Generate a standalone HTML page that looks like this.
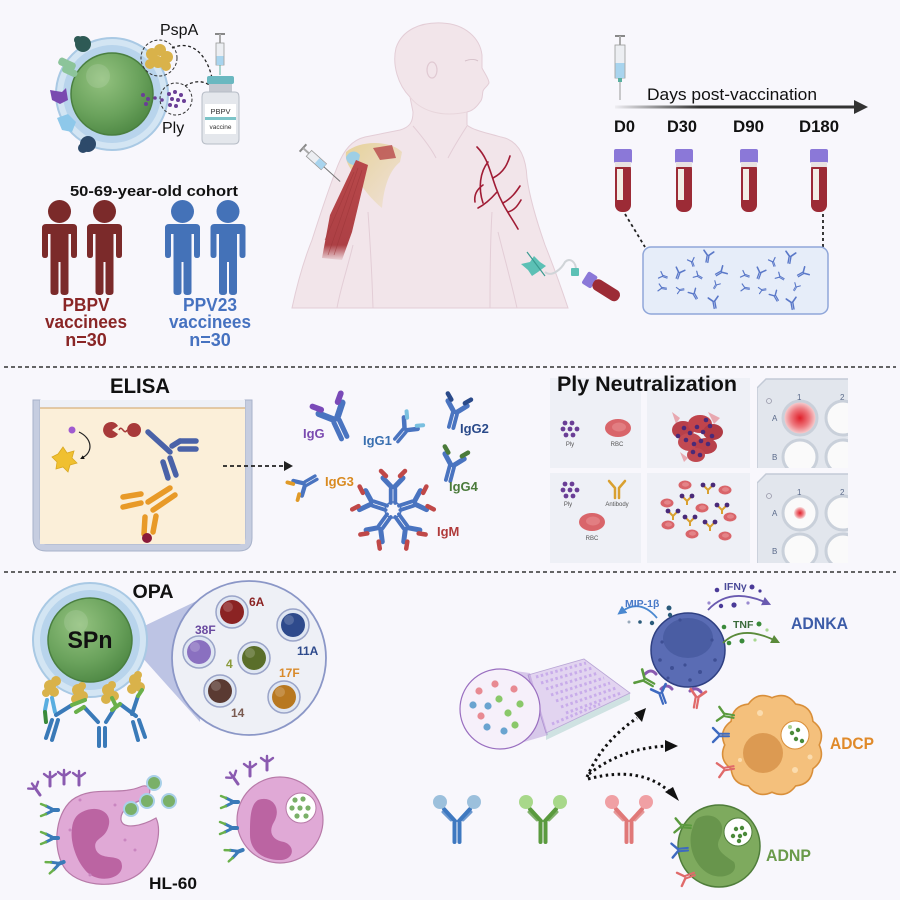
<!DOCTYPE html>
<html><head><meta charset="utf-8"><style>
html,body{margin:0;padding:0;background:#f8f7fc;width:900px;height:900px;overflow:hidden}
svg{display:block}
text{font-family:"Liberation Sans",Arial,sans-serif}
.b{font-weight:bold}
</style></head><body>
<svg width="900" height="900" viewBox="0 0 900 900" xmlns="http://www.w3.org/2000/svg">
<defs>
<radialGradient id="gg" cx="0.38" cy="0.32" r="0.75"><stop offset="0" stop-color="#93c27f"/><stop offset="0.6" stop-color="#6aa25c"/><stop offset="1" stop-color="#4c8642"/></radialGradient>
<radialGradient id="redw" cx="0.5" cy="0.5" r="0.5"><stop offset="0" stop-color="#e0202a"/><stop offset="0.55" stop-color="#ee7a80"/><stop offset="1" stop-color="#f7dcdd"/></radialGradient>
<linearGradient id="arr" gradientUnits="userSpaceOnUse" x1="615" y1="0" x2="700" y2="0"><stop offset="0" stop-color="#333" stop-opacity="0.05"/><stop offset="1" stop-color="#333"/></linearGradient>
<linearGradient id="mus" x1="0" y1="0" x2="0" y2="1"><stop offset="0" stop-color="#b8484a"/><stop offset="0.85" stop-color="#ad4045"/><stop offset="1" stop-color="#ad4045" stop-opacity="0.1"/></linearGradient>
<linearGradient id="bone" x1="0" y1="0" x2="1" y2="1"><stop offset="0" stop-color="#e6d29a"/><stop offset="1" stop-color="#e6d29a" stop-opacity="0.2"/></linearGradient>
<marker id="mk" viewBox="0 0 10 10" refX="5" refY="5" markerWidth="3.5" markerHeight="3.5" orient="auto"><path d="M0,0 L10,5 L0,10 Z" fill="#111"/></marker>
<marker id="mk2" viewBox="0 0 10 10" refX="5" refY="5" markerWidth="5" markerHeight="5" orient="auto"><path d="M0,0 L10,5 L0,10 Z" fill="context-stroke"/></marker>
<g id="abc" fill="none" stroke-linecap="round">
  <path d="M-2.3,1 V15 M2.3,1 V15" stroke="#4a74c0" stroke-width="3.8"/>
  <path d="M-1.5,-1 L-10,-10 M1.5,-1 L10,-10" stroke="#4a74c0" stroke-width="5"/>
  <path d="M-7,-12 L-12,-17 M7,-12 L12,-17" stroke="currentColor" stroke-width="4.5"/>
</g>
<g id="abs" fill="none" stroke-linecap="round" stroke="currentColor">
  <path d="M-1.3,0 V9 M1.3,0 V9" stroke-width="2"/>
  <path d="M-1,-1 L-7,-7 M1,-1 L7,-7" stroke-width="2.4"/>
</g>
<g id="tube"><rect x="-9" y="0" width="18" height="14" rx="2" fill="#8b78d8"/><rect x="-8" y="13" width="16" height="50" rx="7" fill="#9c2b36"/><rect x="-8" y="13" width="16" height="5" fill="#e8e2e2"/><rect x="-6" y="20" width="6" height="31" fill="#f2efe6"/></g>
<g id="person"><circle cx="0" cy="-12.5" r="11.5"/><path d="M-17.5,4 Q-17.5,0 -13.5,0 H13.5 Q17.5,0 17.5,4 V31 Q17.5,34 14.5,34 Q11.5,34 11.5,31 V10 H9 V68 Q9,71 5,71 Q1,71 1,68 V38 H-1 V68 Q-1,71 -5,71 Q-9,71 -9,68 V10 H-11.5 V31 Q-11.5,34 -14.5,34 Q-17.5,34 -17.5,31 Z"/></g>
<g id="plydots" fill="#6a3e96"><circle cx="-4" cy="-6" r="2.4"/><circle cx="3" cy="-6" r="2.4"/><circle cx="-6" cy="0" r="2.4"/><circle cx="1" cy="0" r="2.4"/><circle cx="8" cy="0" r="2.4"/><circle cx="-3" cy="6" r="2.4"/><circle cx="4" cy="6" r="2.4"/></g>
<g id="rbc"><ellipse rx="13" ry="9" fill="#d9656a"/><ellipse cx="1" cy="-1" rx="7" ry="4.5" fill="#e27e82"/></g>
<g id="srbc"><ellipse rx="6.5" ry="4.5" fill="#d9656a"/><ellipse cx="0.5" cy="-0.5" rx="3.5" ry="2.2" fill="#e48488"/></g>
<g id="cplx"><path d="M0,4 V0 M0,0 L-4,-4 M0,0 L4,-4" stroke="#d9a030" stroke-width="2" fill="none"/><circle cx="-5" cy="-5" r="2.4" fill="#4a2a78"/><circle cx="5" cy="-5" r="2.4" fill="#4a2a78"/></g>
<g id="yb" fill="none" stroke-linecap="round" stroke="currentColor">
  <path d="M-2.5,0 V20 M2.5,0 V20" stroke-width="4"/>
  <path d="M-2,-1 L-13,-13 M2,-1 L13,-13" stroke-width="4"/>
  <path d="M-6,-2 L-14,-10 M6,-2 L14,-10" stroke-width="3" stroke-opacity="0.75"/>
</g>
<g id="prec" fill="none" stroke="#8a5ab0" stroke-linecap="round"><path d="M0,0 V-10" stroke-width="3"/><path d="M-6,-12 L-2,-9 M6,-12 L2,-9 M0,-14 V-10" stroke-width="2.4"/></g>
<g id="brec" fill="none" stroke-linecap="round"><path d="M0,0 H6" stroke="#3a7ab8" stroke-width="4"/><path d="M-6,-4 L0,-1 M-6,4 L0,1" stroke="#3a7ab8" stroke-width="3"/><path d="M-11,-6 L-6,-4 M-11,6 L-6,4" stroke="#6ab04a" stroke-width="2.4"/></g>
</defs>

<rect width="900" height="900" fill="#f8f7fc"/>

<!-- ===== TOP LEFT: bacterium + vaccine ===== -->
<circle cx="112" cy="94" r="56" fill="#d3e5f3" stroke="#a9c9e4" stroke-width="2"/>
<circle cx="112" cy="94" r="49" fill="#b8d4ec"/>
<circle cx="112" cy="94" r="41" fill="url(#gg)" stroke="#4a7f40" stroke-width="1.5"/>
<circle cx="98" cy="76" r="12" fill="#fff" opacity="0.12"/>
<circle cx="83" cy="44" r="8" fill="#2e5a55"/><circle cx="78" cy="40" r="4" fill="#2e5a55"/>
<rect x="58" y="60" width="18" height="8" rx="3" fill="#8cc49a" transform="rotate(25 67 64)"/><rect x="62" y="68" width="16" height="7" rx="3" fill="#8cc49a" transform="rotate(25 70 71)"/>
<path d="M50,90 L62,92 L66,88 L68,100 L60,104 L52,100 Z" fill="#7a4ab0"/>
<path d="M57,118 L68,114 L76,122 L72,132 L62,130 Z" fill="#8ec8ea"/>
<circle cx="88" cy="144" r="8" fill="#2d4a6a"/><circle cx="83" cy="148" r="5" fill="#2d4a6a"/>
<g fill="#d9b24a"><circle cx="152" cy="54" r="6"/><circle cx="160" cy="50" r="6"/><circle cx="167" cy="57" r="6"/><circle cx="158" cy="62" r="6"/><circle cx="150" cy="64" r="5"/><circle cx="166" cy="66" r="5"/></g>
<circle cx="159" cy="58" r="18" fill="none" stroke="#333" stroke-width="1" stroke-dasharray="3,2"/>
<g fill="#6a3e96"><circle cx="169" cy="94" r="2"/><circle cx="175" cy="92" r="2"/><circle cx="181" cy="95" r="2"/><circle cx="172" cy="99" r="2"/><circle cx="178" cy="100" r="2"/><circle cx="184" cy="101" r="2"/><circle cx="170" cy="105" r="2"/><circle cx="176" cy="106" r="2"/><circle cx="143" cy="95" r="2"/><circle cx="148" cy="99" r="2"/><circle cx="146" cy="104" r="2"/><circle cx="155" cy="98" r="1.8"/><circle cx="162" cy="100" r="1.8"/></g>
<circle cx="176" cy="99" r="16" fill="none" stroke="#333" stroke-width="1" stroke-dasharray="3,2"/>
<path d="M172,48 C195,38 210,60 213,84" fill="none" stroke="#222" stroke-width="1.3" stroke-dasharray="3,2.5" marker-end="url(#mk)"/>
<path d="M185,86 C195,80 205,80 213,88" fill="none" stroke="#222" stroke-width="1.3" stroke-dasharray="3,2.5" marker-end="url(#mk)"/>
<!-- vial -->
<rect x="207" y="76" width="27" height="8" rx="2" fill="#6ab8c0"/>
<rect x="209" y="84" width="23" height="8" fill="#c4c8d0"/>
<path d="M206,92 H235 Q239,92 239,97 V139 Q239,144 234,144 H207 Q202,144 202,139 V97 Q202,92 206,92 Z" fill="#e4e7ec" stroke="#b6bcc6"/>
<rect x="205" y="104" width="31" height="30" fill="#fff"/>
<rect x="205" y="117" width="31" height="3" fill="#7cc4c8"/>
<text x="220.5" y="114" font-size="7.5" text-anchor="middle" fill="#333">PBPV</text>
<text x="220.5" y="129" font-size="6.5" text-anchor="middle" fill="#333">vaccine</text>
<!-- vial syringe -->
<line x1="215" y1="34" x2="225" y2="34" stroke="#888" stroke-width="2"/>
<rect x="219" y="34" width="2" height="9" fill="#aaa"/>
<rect x="216" y="43" width="8" height="22" fill="#eceef2" stroke="#999" stroke-width="0.8"/>
<rect x="216.5" y="56" width="7" height="9" fill="#a8d4ee"/>
<line x1="220" y1="65" x2="220" y2="75" stroke="#5ab0a0" stroke-width="1"/>
<text x="160" y="35" font-size="16" fill="#111">PspA</text>
<text x="162" y="133" font-size="16" fill="#111">Ply</text>

<!-- cohort -->
<text x="154" y="196" font-size="15" class="b" text-anchor="middle" fill="#111" textLength="168" lengthAdjust="spacingAndGlyphs">50-69-year-old cohort</text>
<g fill="#7b2a2a"><use href="#person" x="59.5" y="224"/><use href="#person" x="104.5" y="224"/></g>
<g fill="#4472b8"><use href="#person" x="182.5" y="224"/><use href="#person" x="228" y="224"/></g>
<g class="b" font-size="18" text-anchor="middle">
<text x="86" y="311" fill="#8a2626" textLength="47" lengthAdjust="spacingAndGlyphs">PBPV</text>
<text x="86" y="328" fill="#8a2626" textLength="82" lengthAdjust="spacingAndGlyphs">vaccinees</text>
<text x="86" y="346" fill="#8a2626">n=30</text>
<text x="210" y="311" fill="#4672c0" textLength="54" lengthAdjust="spacingAndGlyphs">PPV23</text>
<text x="210" y="328" fill="#4672c0" textLength="82" lengthAdjust="spacingAndGlyphs">vaccinees</text>
<text x="210" y="346" fill="#4672c0">n=30</text>
</g>

<!-- ===== HUMAN BODY ===== -->
<path d="M292,308 C298,280 306,255 312,240 C320,215 330,185 338,165 C344,150 352,140 365,137 L400,130 C410,127 413,122 413,112 L410,97 C398,85 392,65 396,48 C402,30 420,22 442,23 C465,24 480,38 482,55 L482,68 C485,74 489,79 489,83 C487,87 484,88 483,91 C482,95 483,99 480,102 C476,108 472,111 467,112 L467,125 C472,130 490,134 505,138 C520,143 526,158 527,178 C530,200 538,225 545,245 C553,265 562,290 568,308 Z" fill="#f2e5ea" stroke="#e3cdd6" stroke-width="1"/>
<path d="M368,212 C370,240 372,275 373,308 M492,212 C490,245 490,280 490,308 M353,245 C347,270 340,290 337,308 M498,232 C505,260 512,285 517,308 M413,126 C425,140 432,150 436,158 M467,126 C458,140 452,150 448,158" fill="none" stroke="#e3cdd6" stroke-width="1"/>
<path d="M410,97 C420,110 440,118 467,112" fill="none" stroke="#e8d6dc" stroke-width="1"/>
<ellipse cx="432" cy="70" rx="5" ry="8" fill="none" stroke="#e0c9d2" stroke-width="1.2"/>
<path d="M465,61 C470,59 475,59 478,61" stroke="#d5bfc8" stroke-width="1" fill="none"/>
<!-- shoulder bones and muscle -->
<path d="M346,152 C360,140 390,140 402,152 L400,162 C390,170 384,185 382,208 C372,200 362,188 355,175 C348,166 345,160 346,152 Z" fill="url(#bone)"/>
<path d="M373,148 L392,145 L396,158 L380,160 Z" fill="#b8484a" opacity="0.8"/>
<path d="M346,157 C350,150 356,150 360,155 L358,165 C352,166 346,163 346,157 Z" fill="#9ecfe6"/>
<path d="M356,160 L368,165 L352,232 L342,260 L322,258 L330,215 Z" fill="url(#mus)"/>
<g stroke="#9a3538" stroke-width="0.7" opacity="0.6"><line x1="358" y1="168" x2="328" y2="255"/><line x1="362" y1="170" x2="334" y2="255"/><line x1="354" y1="172" x2="325" y2="240"/></g>
<g transform="translate(303,148) rotate(-48)"><line x1="-5" y1="0" x2="5" y2="0" stroke="#888" stroke-width="2"/><rect x="-1" y="0" width="2" height="8" fill="#aaa"/><rect x="-4" y="8" width="8" height="20" fill="#eceef2" stroke="#999" stroke-width="0.8"/><rect x="-3.5" y="19" width="7" height="9" fill="#a8d4ee"/><line x1="0" y1="28" x2="0" y2="50" stroke="#777" stroke-width="1"/></g>
<!-- veins -->
<g fill="none" stroke="#a01c35" stroke-width="1.6" stroke-linecap="round">
<path d="M477,147 C488,158 490,172 496,188 C502,205 510,215 518,229"/>
<path d="M488,162 C480,172 478,188 483,203"/>
<path d="M493,178 C505,172 508,162 510,156"/>
<path d="M497,192 C490,200 484,205 478,208"/>
<path d="M503,203 C512,198 516,192 520,186"/>
<path d="M508,212 C515,210 518,205 521,200"/>
<path d="M483,185 C476,190 474,196 475,202"/>
</g>
<!-- butterfly + tube -->
<path d="M545,272 C552,278 562,268 565,262 C570,257 576,262 576,270" fill="none" stroke="#d0d4d8" stroke-width="2"/>
<path d="M521,264 L530,262 L534,256 L540,262 L546,266 L538,272 L532,276 L528,270 Z" fill="#5cc0b5"/>
<line x1="527" y1="252" x2="545" y2="276" stroke="#3a9a90" stroke-width="1.2"/>
<rect x="571" y="268" width="8" height="8" rx="1" fill="#5cc0b5"/>
<g transform="translate(585,277) rotate(-58)"><rect x="-7" y="0" width="14" height="11" rx="2" fill="#8b78d8"/><rect x="-6" y="10" width="12" height="30" rx="5.5" fill="#9c2b36"/></g>

<!-- ===== TOP RIGHT: timeline ===== -->
<line x1="615" y1="36" x2="625" y2="36" stroke="#888" stroke-width="2"/>
<rect x="619" y="36" width="2" height="9" fill="#aaa"/>
<rect x="615" y="45" width="10" height="33" fill="#eceef2" stroke="#999" stroke-width="0.8"/>
<rect x="615.5" y="63" width="9" height="15" fill="#a8d4ee"/>
<rect x="618" y="78" width="4" height="4" fill="#5ab0a0"/>
<line x1="620" y1="82" x2="620" y2="100" stroke="#999" stroke-width="1"/>
<rect x="615" y="105.5" width="241" height="3" fill="url(#arr)"/>
<path d="M854,100 L868,107 L854,114 Z" fill="#333"/>
<text x="647" y="100" font-size="17" fill="#111" textLength="170" lengthAdjust="spacingAndGlyphs">Days post-vaccination</text>
<g class="b" font-size="17" fill="#111">
<text x="614" y="132" textLength="21" lengthAdjust="spacingAndGlyphs">D0</text>
<text x="667" y="132" textLength="30" lengthAdjust="spacingAndGlyphs">D30</text>
<text x="733" y="132" textLength="31" lengthAdjust="spacingAndGlyphs">D90</text>
<text x="799" y="132" textLength="40" lengthAdjust="spacingAndGlyphs">D180</text>
</g>
<use href="#tube" x="623" y="149"/><use href="#tube" x="684" y="149"/><use href="#tube" x="749" y="149"/><use href="#tube" x="819" y="149"/>
<line x1="625" y1="214" x2="645" y2="247" stroke="#222" stroke-width="1.8" stroke-dasharray="3,3"/>
<line x1="823" y1="214" x2="823" y2="247" stroke="#222" stroke-width="1.8" stroke-dasharray="3,3"/>
<rect x="643" y="247" width="185" height="67" rx="8" fill="#e6edf9" stroke="#8fa6d9" stroke-width="1.5"/>
<g color="#5a78c8">
<use href="#abs" transform="translate(663,276) rotate(-70) scale(0.5)"/><use href="#abs" transform="translate(679,273) rotate(20) scale(0.65)"/><use href="#abs" transform="translate(692,262) rotate(-20) scale(0.5)"/><use href="#abs" transform="translate(708,256) rotate(10) scale(0.7)"/><use href="#abs" transform="translate(698,276) rotate(-60) scale(0.5)"/><use href="#abs" transform="translate(721,272) rotate(60) scale(0.65)"/>
<use href="#abs" transform="translate(662,288) rotate(-80) scale(0.5)"/><use href="#abs" transform="translate(680,290) rotate(-100) scale(0.45)"/><use href="#abs" transform="translate(694,294) rotate(-30) scale(0.6)"/><use href="#abs" transform="translate(714,302) rotate(-10) scale(0.7)"/><use href="#abs" transform="translate(716,285) rotate(30) scale(0.45)"/>
<use href="#abs" transform="translate(745,275) rotate(-70) scale(0.5)"/><use href="#abs" transform="translate(760,273) rotate(20) scale(0.65)"/><use href="#abs" transform="translate(773,262) rotate(-20) scale(0.5)"/><use href="#abs" transform="translate(790,257) rotate(10) scale(0.7)"/><use href="#abs" transform="translate(780,277) rotate(-60) scale(0.5)"/><use href="#abs" transform="translate(803,273) rotate(60) scale(0.65)"/>
<use href="#abs" transform="translate(745,288) rotate(-80) scale(0.5)"/><use href="#abs" transform="translate(762,290) rotate(-100) scale(0.45)"/><use href="#abs" transform="translate(775,296) rotate(-30) scale(0.6)"/><use href="#abs" transform="translate(792,303) rotate(-10) scale(0.7)"/><use href="#abs" transform="translate(796,287) rotate(30) scale(0.45)"/>
</g>

<!-- separators -->
<line x1="4" y1="367" x2="896" y2="367" stroke="#333" stroke-width="1.5" stroke-dasharray="4,3"/>
<line x1="4" y1="572" x2="896" y2="572" stroke="#333" stroke-width="1.5" stroke-dasharray="4,3"/>

<!-- ===== ELISA ===== -->
<text x="140" y="393" font-size="21" class="b" text-anchor="middle" fill="#111" textLength="60" lengthAdjust="spacingAndGlyphs">ELISA</text>
<path d="M33,400 V538 Q33,551 46,551 H239 Q252,551 252,538 V400 H245 V537 Q245,544 238,544 H47 Q40,544 40,537 V400 Z" fill="#c6cde0" stroke="#a8b2ca"/>
<rect x="40" y="408" width="205" height="136" fill="#fbefd9"/>
<rect x="40" y="400" width="205" height="8" fill="#eef0f6"/>
<line x1="40" y1="408" x2="245" y2="408" stroke="#d0a060" stroke-width="1"/>
<circle cx="72" cy="430" r="3.5" fill="#a05ad0"/>
<path d="M79,432 C92,438 94,452 82,458" fill="none" stroke="#222" stroke-width="1.2" marker-end="url(#mk)"/>
<path d="M63,447 L67,453 L74,451 L72,458 L77,463 L70,465 L68,472 L63,467 L56,469 L57,462 L52,457 L58,454 Z" fill="#f0c030" stroke="#d9a820" stroke-width="0.8"/>
<path d="M112,422 A8,8 0 1 0 118,434 L112,430 L118,426 A8,8 0 0 0 112,422 Z" fill="#a83a3a"/>
<path d="M119,430 C122,424 124,436 127,430" fill="none" stroke="#a83a3a" stroke-width="1.5"/>
<circle cx="134" cy="430" r="7" fill="#a83a3a"/>
<g stroke="#4a62a8" stroke-width="5.5" stroke-linecap="round" fill="none">
<line x1="148" y1="432" x2="170" y2="452"/>
<line x1="172" y1="446" x2="180" y2="441"/>
<line x1="180" y1="441" x2="196" y2="441"/>
<line x1="180" y1="449" x2="196" y2="449"/>
<line x1="163" y1="462" x2="168" y2="478"/>
<line x1="170" y1="458" x2="176" y2="475"/>
</g>
<g stroke="#e89a28" stroke-width="5.5" stroke-linecap="round" fill="none">
<line x1="123" y1="497" x2="141" y2="494"/>
<line x1="123" y1="507" x2="141" y2="503"/>
<line x1="148" y1="502" x2="170" y2="488"/>
<line x1="153" y1="510" x2="175" y2="495"/>
<line x1="145" y1="517" x2="144" y2="534"/>
<line x1="156" y1="516" x2="153" y2="532"/>
</g>
<circle cx="147" cy="538" r="5" fill="#8a1a3a"/>
<line x1="223" y1="466" x2="284" y2="466" stroke="#222" stroke-width="1.8" stroke-dasharray="4,3"/>
<path d="M284,461 L293,466 L284,471 Z" fill="#222"/>

<!-- isotypes -->
<use href="#abc" color="#7a4ab8" transform="translate(336,420) rotate(-25) scale(1.3)"/>
<use href="#abc" color="#7ac0e0" transform="translate(405,430) rotate(40) scale(0.9)"/>
<use href="#abc" color="#2a4a8a" transform="translate(455,413) rotate(15) scale(1)"/>
<use href="#abc" color="#e09a28" transform="translate(305,484) rotate(-120) scale(0.85)"/>
<use href="#abc" color="#4a7a3a" transform="translate(452,466) rotate(15) scale(1)"/>
<g>
<circle cx="393" cy="510" r="8" fill="none" stroke="#4a74c0" stroke-width="1.5"/>
<use href="#abc" color="#c04848" transform="translate(393,510) rotate(0) translate(0,-22)"/>
<use href="#abc" color="#c04848" transform="translate(393,510) rotate(72) translate(0,-22)"/>
<use href="#abc" color="#c04848" transform="translate(393,510) rotate(144) translate(0,-22)"/>
<use href="#abc" color="#c04848" transform="translate(393,510) rotate(216) translate(0,-22)"/>
<use href="#abc" color="#c04848" transform="translate(393,510) rotate(288) translate(0,-22)"/>
</g>
<g class="b" font-size="13">
<text x="303" y="438" fill="#7a4ab0">IgG</text>
<text x="363" y="445" fill="#3a70b0">IgG1</text>
<text x="460" y="433" fill="#2a4a8a">IgG2</text>
<text x="325" y="486" fill="#d98a20">IgG3</text>
<text x="449" y="491" fill="#4a7a3a">IgG4</text>
<text x="437" y="536" fill="#b03a3a">IgM</text>
</g>

<!-- ===== Ply Neutralization ===== -->
<rect x="550" y="378" width="91" height="90" fill="#eef0f6"/>
<rect x="647" y="378" width="103" height="90" fill="#eef0f6"/>
<rect x="550" y="473" width="91" height="90" fill="#eef0f6"/>
<rect x="647" y="473" width="103" height="90" fill="#eef0f6"/>
<clipPath id="pc1"><rect x="757" y="378" width="91" height="90"/></clipPath>
<clipPath id="pc2"><rect x="757" y="473" width="91" height="90"/></clipPath>
<g clip-path="url(#pc1)">
<path d="M766,379 H860 V470 H757 V388 Z" fill="#e2e6ed" stroke="#c3cad6" stroke-width="1.5"/>
<circle cx="769" cy="401" r="2.5" fill="none" stroke="#99a" stroke-width="0.8"/>
<circle cx="800" cy="418" r="17" fill="url(#redw)" stroke="#c9d0da" stroke-width="3"/>
<circle cx="843" cy="418" r="17" fill="#fafafa" stroke="#c9d0da" stroke-width="3"/>
<circle cx="800" cy="457" r="17" fill="#fafafa" stroke="#c9d0da" stroke-width="3"/>
<circle cx="843" cy="457" r="17" fill="#fafafa" stroke="#c9d0da" stroke-width="3"/>
<g font-size="8" fill="#5a6a8a"><text x="797" y="400">1</text><text x="840" y="400">2</text><text x="772" y="421">A</text><text x="772" y="460">B</text></g>
</g>
<g clip-path="url(#pc2)">
<path d="M766,474 H860 V565 H757 V483 Z" fill="#e2e6ed" stroke="#c3cad6" stroke-width="1.5"/>
<circle cx="769" cy="496" r="2.5" fill="none" stroke="#99a" stroke-width="0.8"/>
<circle cx="800" cy="513" r="17" fill="#fafafa" stroke="#c9d0da" stroke-width="3"/>
<circle cx="800" cy="513" r="6" fill="url(#redw)"/>
<circle cx="843" cy="513" r="17" fill="#fafafa" stroke="#c9d0da" stroke-width="3"/>
<circle cx="800" cy="551" r="17" fill="#fafafa" stroke="#c9d0da" stroke-width="3"/>
<circle cx="843" cy="551" r="17" fill="#fafafa" stroke="#c9d0da" stroke-width="3"/>
<g font-size="8" fill="#5a6a8a"><text x="797" y="495">1</text><text x="840" y="495">2</text><text x="772" y="516">A</text><text x="772" y="554">B</text></g>
</g>
<text x="647" y="391" font-size="21" class="b" text-anchor="middle" fill="#111" textLength="180" lengthAdjust="spacingAndGlyphs">Ply Neutralization</text>
<use href="#plydots" x="569" y="429"/>
<use href="#rbc" x="618" y="428"/>
<g font-size="6" fill="#555" text-anchor="middle"><text x="570" y="446">Ply</text><text x="617" y="446">RBC</text><text x="568" y="506">Ply</text><text x="617" y="506">Antibody</text><text x="592" y="540">RBC</text></g>
<!-- lysed cluster -->
<g>
<path d="M672,412 L680,418 L676,424 Z M708,412 L720,418 L714,424 Z M680,452 L688,458 L684,462 Z" fill="#e8a8b0"/>
<ellipse cx="683" cy="430" rx="11" ry="9" fill="#b8404a"/><ellipse cx="700" cy="424" rx="12" ry="9" fill="#c0444c"/><ellipse cx="713" cy="432" rx="10" ry="8" fill="#b03a44"/>
<ellipse cx="690" cy="442" rx="12" ry="9" fill="#c24a52"/><ellipse cx="706" cy="446" rx="11" ry="8" fill="#b8404a"/><ellipse cx="696" cy="455" rx="9" ry="7" fill="#c04850"/>
<g fill="#4a2a78"><circle cx="684" cy="428" r="2.3"/><circle cx="690" cy="433" r="2.3"/><circle cx="697" cy="427" r="2.3"/><circle cx="703" cy="432" r="2.3"/><circle cx="710" cy="426" r="2.3"/><circle cx="712" cy="436" r="2.3"/><circle cx="686" cy="440" r="2.3"/><circle cx="694" cy="444" r="2.3"/><circle cx="701" cy="441" r="2.3"/><circle cx="708" cy="444" r="2.3"/><circle cx="693" cy="452" r="2.3"/><circle cx="700" cy="455" r="2.3"/><circle cx="706" cy="420" r="2.3"/><circle cx="678" cy="436" r="2.3"/></g>
</g>
<!-- row 2 -->
<use href="#plydots" x="569" y="490"/>
<g stroke="#d9a030" stroke-width="2.5" fill="none" stroke-linecap="round"><path d="M615,488 V498 M619,488 V498 M615,488 L609,481 M619,488 L625,481"/></g>
<use href="#rbc" x="592" y="522"/>
<use href="#srbc" x="685" y="485"/><use href="#srbc" x="725" y="490"/><use href="#srbc" x="667" y="503"/><use href="#srbc" x="702" y="508"/><use href="#srbc" x="730" y="517"/><use href="#srbc" x="668" y="525"/><use href="#srbc" x="692" y="534"/><use href="#srbc" x="725" y="536"/>
<use href="#cplx" x="708" y="490"/><use href="#cplx" x="687" y="501"/><use href="#cplx" x="722" y="510"/><use href="#cplx" x="673" y="516"/><use href="#cplx" x="690" y="522"/><use href="#cplx" x="710" y="527"/>

<!-- ===== OPA ===== -->
<text x="153" y="598" font-size="19" class="b" text-anchor="middle" fill="#111" textLength="41" lengthAdjust="spacingAndGlyphs">OPA</text>
<path d="M140,628 L205,597 L200,722 L140,655 Z" fill="#b3bbdf" opacity="0.85"/>
<circle cx="249" cy="658" r="77" fill="#eef0f6" stroke="#8b97c7" stroke-width="1.8"/>
<circle cx="90" cy="640" r="57" fill="#d3e5f3" stroke="#a9c9e4" stroke-width="2"/>
<circle cx="90" cy="640" r="50" fill="#b8d4ec"/>
<circle cx="90" cy="640" r="42" fill="url(#gg)" stroke="#4a7f40" stroke-width="1.5"/>
<circle cx="76" cy="622" r="12" fill="#fff" opacity="0.12"/>
<text x="90" y="648" font-size="24" class="b" text-anchor="middle" fill="#111" textLength="45" lengthAdjust="spacingAndGlyphs">SPn</text>
<!-- serotypes -->
<g stroke="#9aa4c8" stroke-width="1.5">
<circle cx="232" cy="612" r="16" fill="#dfe6f2"/><circle cx="293" cy="625" r="16" fill="#dfe6f2"/><circle cx="199" cy="652" r="16" fill="#dfe6f2"/><circle cx="254" cy="658" r="16" fill="#dfe6f2"/><circle cx="284" cy="697" r="16" fill="#dfe6f2"/><circle cx="220" cy="691" r="16" fill="#dfe6f2"/>
</g>
<circle cx="232" cy="612" r="12" fill="#8b2323"/><circle cx="293" cy="625" r="12" fill="#2e4a8c"/><circle cx="199" cy="652" r="12" fill="#8a70c0"/><circle cx="254" cy="658" r="12" fill="#5a6e2a"/><circle cx="284" cy="697" r="12" fill="#b87820"/><circle cx="220" cy="691" r="12" fill="#5a3a32"/>
<g fill="#fff" opacity="0.18"><circle cx="228" cy="607" r="5"/><circle cx="289" cy="620" r="5"/><circle cx="195" cy="647" r="5"/><circle cx="250" cy="653" r="5"/><circle cx="280" cy="692" r="5"/><circle cx="216" cy="686" r="5"/></g>
<g class="b" font-size="12">
<text x="249" y="606" fill="#8b2323">6A</text>
<text x="297" y="655" fill="#2e4a8c">11A</text>
<text x="195" y="634" fill="#6a4aa0">38F</text>
<text x="226" y="668" fill="#8a9a3a">4</text>
<text x="279" y="677" fill="#d98a2a">17F</text>
<text x="231" y="717" fill="#7a5a50">14</text>
</g>
<!-- PspA + antibodies under SPn -->
<g fill="#d9b24a"><circle cx="50" cy="686" r="6"/><circle cx="56" cy="681" r="5"/><circle cx="54" cy="692" r="5"/><circle cx="46" cy="693" r="4"/>
<circle cx="78" cy="690" r="6"/><circle cx="83" cy="696" r="5"/><circle cx="76" cy="699" r="5"/><circle cx="82" cy="686" r="4"/>
<circle cx="108" cy="690" r="6"/><circle cx="114" cy="696" r="5"/><circle cx="106" cy="699" r="5"/><circle cx="112" cy="685" r="4"/>
<circle cx="135" cy="680" r="6"/><circle cx="140" cy="687" r="5"/><circle cx="132" cy="689" r="5"/><circle cx="138" cy="675" r="4"/></g>
<g fill="none" stroke-linecap="round" stroke-width="4">
<path d="M52,698 L55,712 M47,700 L45,710" stroke="#5aaee0"/><path d="M45,712 L46,722" stroke="#3a8a3a"/>
<path d="M56,715 L72,705" stroke="#3a7ab8"/><path d="M72,705 L85,700" stroke="#6ab04a"/>
<path d="M52,720 L46,738 M58,720 L52,740" stroke="#3a7ab8"/>
<path d="M98,722 L84,707 M106,722 L116,706" stroke="#3a7ab8"/><path d="M84,707 L76,712 M116,706 L112,698" stroke="#6ab04a"/>
<path d="M99,728 V746 M105,728 V746" stroke="#3a7ab8"/>
<path d="M132,714 L138,696 M136,716 L120,704" stroke="#3a7ab8"/><path d="M138,696 L142,690 M120,704 L112,710" stroke="#6ab04a"/>
<path d="M133,722 L138,740 M139,720 L145,737" stroke="#3a7ab8"/>
</g>

<!-- HL-60 cells -->
<path d="M140,787 C150,782 154,794 144,799 C130,804 120,810 121,820 C123,830 142,826 156,818 C163,832 155,860 140,873 C120,889 82,888 66,870 C52,852 54,815 72,800 C92,785 118,796 140,787 Z" fill="#e0a9d6" stroke="#b77aa8" stroke-width="1.2"/>
<path d="M82,812 C97,804 114,812 108,828 C104,840 92,838 96,850 C102,862 122,852 122,866 C122,880 96,884 85,870 C75,858 70,840 72,828 C73,820 76,815 82,812 Z" fill="#bb64a2"/>
<g fill="#c985c0"><circle cx="70" cy="830" r="1.5"/><circle cx="125" cy="840" r="1.5"/><circle cx="115" cy="805" r="1.5"/><circle cx="90" cy="875" r="1.5"/><circle cx="135" cy="850" r="1.5"/><circle cx="80" cy="800" r="1.5"/></g>
<g stroke="#a9d0e8" stroke-width="2" fill="#7ab068"><circle cx="154" cy="783" r="7"/><circle cx="147" cy="801" r="7"/><circle cx="169" cy="801" r="7"/><circle cx="131" cy="809" r="7"/></g>
<circle cx="280" cy="820" r="43" fill="#e0a9d6" stroke="#b77aa8" stroke-width="1.2"/>
<path d="M258,800 C272,795 282,808 274,822 C268,832 272,840 284,842 C296,846 294,860 280,860 C262,860 250,850 250,835 C250,820 250,805 258,800 Z" fill="#bb64a2"/>
<circle cx="301" cy="808" r="15" fill="#fff" stroke="#b77aa8"/>
<g fill="#7ab068"><circle cx="295" cy="800" r="2.6"/><circle cx="303" cy="799" r="2.6"/><circle cx="292" cy="808" r="2.6"/><circle cx="300" cy="808" r="2.6"/><circle cx="308" cy="808" r="2.6"/><circle cx="297" cy="816" r="2.6"/><circle cx="306" cy="816" r="2.6"/></g>
<use href="#prec" transform="translate(40,795) rotate(-35)"/><use href="#prec" x="50" y="786"/><use href="#prec" x="64" y="784"/><use href="#prec" x="79" y="785"/>
<use href="#brec" x="52" y="810"/><use href="#brec" x="52" y="838"/><use href="#brec" transform="translate(58,864) rotate(-20)"/>
<use href="#prec" transform="translate(238,784) rotate(-35)"/><use href="#prec" x="250" y="776"/><use href="#prec" x="267" y="770"/>
<use href="#brec" x="232" y="802"/><use href="#brec" x="231" y="828"/><use href="#brec" transform="translate(237,852) rotate(-20)"/>
<text x="173" y="889" font-size="17" class="b" text-anchor="middle" fill="#111" textLength="48" lengthAdjust="spacingAndGlyphs">HL-60</text>

<!-- ===== bottom right ===== -->
<!-- plate -->
<path d="M528,675 L584,659 L630,693 L630,700 L546,740 L546,733 Z" fill="#cfe2e2"/>
<path d="M528,675 L584,659 L630,693 L546,733 Z" fill="#e2d4f0" stroke="#b9a6d6" stroke-width="0.8"/>
<g stroke="#c6a8ea" stroke-width="3" stroke-dasharray="2.5,2.5" opacity="0.9">
<line x1="536" y1="677" x2="586" y2="663"/><line x1="541" y1="683" x2="592" y2="668"/><line x1="546" y1="689" x2="598" y2="673"/><line x1="551" y1="695" x2="604" y2="678"/><line x1="556" y1="701" x2="610" y2="683"/><line x1="561" y1="707" x2="616" y2="688"/><line x1="566" y1="713" x2="621" y2="693"/><line x1="552" y1="724" x2="600" y2="704"/>
</g>
<path d="M500,669 L530,673 L548,735 L500,749 Z" fill="#9a6fc8" opacity="0.35"/>
<circle cx="500" cy="709" r="40" fill="#f6f0fa" stroke="#9a6fc0" stroke-width="1.2"/>
<g fill="#e88a92"><circle cx="479" cy="691" r="3.6"/><circle cx="495" cy="684" r="3.6"/><circle cx="514" cy="689" r="3.6"/><circle cx="481" cy="716" r="3.6"/></g>
<g fill="#6aa4d0"><circle cx="473" cy="705" r="3.6"/><circle cx="488" cy="706" r="3.6"/><circle cx="487" cy="727" r="3.6"/><circle cx="504" cy="731" r="3.6"/></g>
<g fill="#8ac86a"><circle cx="499" cy="699" r="3.6"/><circle cx="520" cy="704" r="3.6"/><circle cx="508" cy="713" r="3.6"/><circle cx="515" cy="725" r="3.6"/></g>
<!-- bottom antibodies -->
<use href="#yb" color="#3e78c0" x="457" y="822"/><circle cx="440" cy="802" r="7" fill="#9cc0dc"/><circle cx="474" cy="802" r="7" fill="#9cc0dc"/>
<use href="#yb" color="#5a9a3e" x="543" y="822"/><circle cx="526" cy="802" r="7" fill="#a8d88a"/><circle cx="560" cy="802" r="7" fill="#a8d88a"/>
<use href="#yb" color="#e07878" x="629" y="822"/><circle cx="612" cy="802" r="7" fill="#f0a0a4"/><circle cx="646" cy="802" r="7" fill="#f0a0a4"/>
<!-- dotted arrows -->
<g fill="none" stroke="#111" stroke-width="3" stroke-dasharray="2.5,3.5">
<path d="M587,777 Q602,742 637,718"/>
<path d="M589,774 Q622,748 667,746"/>
<path d="M588,779 Q640,765 670,792"/>
</g>
<path d="M634,713 L646,708 L642,722 Z" fill="#111"/>
<path d="M665,740 L678,746 L665,752 Z" fill="#111"/>
<path d="M665,792 L679,801 L673,787 Z" fill="#111"/>
<!-- NK cell -->
<circle cx="688" cy="650" r="37" fill="#5a6cb4" stroke="#2f4082" stroke-width="1.5"/>
<ellipse cx="688" cy="638" rx="25" ry="20" fill="#4a5da3"/>
<g fill="#3e4f94"><circle cx="660" cy="660" r="1.8"/><circle cx="672" cy="668" r="2"/><circle cx="685" cy="665" r="1.6"/><circle cx="700" cy="672" r="2"/><circle cx="715" cy="660" r="1.8"/><circle cx="668" cy="678" r="1.5"/><circle cx="690" cy="680" r="1.8"/><circle cx="712" cy="640" r="1.6"/><circle cx="662" cy="642" r="1.6"/><circle cx="680" cy="620" r="1.6"/></g>
<g fill="none" stroke="#8a5ab0" stroke-width="3" stroke-linecap="round"><path d="M645,674 Q651,668 656,674"/><path d="M661,689 Q667,683 672,689"/><path d="M690,691 Q696,686 701,692"/></g>
<use href="#abs" color="#5a9a3e" transform="translate(645,680) rotate(-60) scale(1.1)"/>
<use href="#abs" color="#3e6ac0" transform="translate(661,694) rotate(-20) scale(1.1)"/>
<use href="#abs" color="#e06a6a" transform="translate(697,698) rotate(10) scale(1.1)"/>
<path d="M657,618 Q640,598 621,612" fill="none" stroke="#4a88d0" stroke-width="1.8" marker-end="url(#mk2)"/>
<path d="M708,610 Q730,586 767,603" fill="none" stroke="#6a5ab0" stroke-width="1.8" marker-end="url(#mk2)"/>
<path d="M723,643 Q742,624 776,641" fill="none" stroke="#5a8a3a" stroke-width="1.8" marker-end="url(#mk2)"/>
<g fill="#2a5a7a"><circle cx="669" cy="608" r="2.5"/><circle cx="670" cy="615" r="2.2"/><circle cx="652" cy="623" r="2.2"/><circle cx="640" cy="622" r="1.8"/><circle cx="629" cy="622" r="1.5" fill="#9ab"/></g>
<g fill="#4a3a98"><circle cx="717" cy="590" r="2.3"/><circle cx="752" cy="587" r="2.5"/><circle cx="760" cy="591" r="1.6"/><circle cx="721" cy="606" r="2.2"/><circle cx="734" cy="605" r="2.6"/><circle cx="748" cy="603" r="1.6" fill="#9a8ad0"/><circle cx="709" cy="603" r="1.6" fill="#9a8ad0"/></g>
<g fill="#3a8a3a"><circle cx="724" cy="627" r="2.3"/><circle cx="759" cy="624" r="2.5"/><circle cx="729" cy="643" r="2.3"/><circle cx="742" cy="641" r="2.5"/><circle cx="755" cy="640" r="1.6" fill="#a8d890"/><circle cx="767" cy="630" r="1.6" fill="#a8d890"/></g>
<g class="b" font-size="10.5"><text x="625" y="607" fill="#4a7ac8">MIP-1β</text><text x="724" y="590" fill="#4a4a98">IFNγ</text><text x="733" y="628" fill="#3a6a3a">TNF</text></g>
<text x="791" y="629" font-size="17" class="b" fill="#3d5ca8" textLength="57" lengthAdjust="spacingAndGlyphs">ADNKA</text>
<!-- macrophage -->
<path d="M815,745 Q821.2,758.7 809,767.5 Q807.5,782.5 792.5,784 Q783.7,796.2 770,790 Q756.3,796.2 747.5,784 Q732.5,782.5 731,767.5 Q718.8,758.7 725,745 Q718.8,731.3 731,722.5 Q732.5,707.5 747.5,706 Q756.3,693.8 770,700 Q783.7,693.8 792.5,706 Q807.5,707.5 809,722.5 Q821.2,731.3 815,745 Z" fill="#f4c07c" stroke="#d98f3a" stroke-width="1.5" transform="translate(772,745) scale(1.05) translate(-770,-745)"/>
<circle cx="763" cy="753" r="20" fill="#dc9a52"/>
<circle cx="795" cy="735" r="14" fill="#fff" stroke="#d98f3a"/>
<g fill="#4a8a3a"><circle cx="792" cy="733" r="2.2"/><circle cx="798" cy="730" r="2.2"/><circle cx="796" cy="739" r="2.2"/><circle cx="802" cy="741" r="2.2"/><circle cx="790" cy="727" r="2" fill="#a8d090"/></g>
<g fill="#fbdcae"><circle cx="760" cy="713" r="3"/><circle cx="795" cy="770" r="3"/><circle cx="740" cy="760" r="2"/><circle cx="810" cy="757" r="2.5"/></g>
<use href="#abs" color="#5a9a3e" transform="translate(725,715) rotate(-80)"/>
<use href="#abs" color="#3e6ac0" transform="translate(720,735) rotate(-90)"/>
<use href="#abs" color="#e06a6a" transform="translate(725,769) rotate(-100)"/>
<text x="830" y="749" font-size="17" class="b" fill="#e08a2a" textLength="44" lengthAdjust="spacingAndGlyphs">ADCP</text>
<!-- neutrophil -->
<circle cx="719" cy="846" r="41" fill="#7eaa5e" stroke="#4f7d3a" stroke-width="1.5"/>
<path d="M698,818 C713,810 728,822 720,838 C713,850 726,856 734,862 C740,874 720,882 706,872 C692,862 688,842 692,830 C694,824 695,820 698,818 Z" fill="#5f8c45" opacity="0.7"/>
<circle cx="738" cy="832" r="14" fill="#fff" stroke="#4f7d3a"/>
<g fill="#4a8a3a"><circle cx="736" cy="829" r="2.2"/><circle cx="742" cy="828" r="2.2"/><circle cx="733" cy="836" r="2.2"/><circle cx="740" cy="836" r="2.2"/><circle cx="745" cy="834" r="2.2"/><circle cx="739" cy="841" r="2.2"/></g>
<use href="#abs" color="#5a9a3e" transform="translate(682,826) rotate(-85)"/>
<use href="#abs" color="#3e6ac0" transform="translate(679,850) rotate(-95)"/>
<use href="#abs" color="#e06a6a" transform="translate(686,877) rotate(-110)"/>
<text x="766" y="861" font-size="17" class="b" fill="#6a9a4a" textLength="45" lengthAdjust="spacingAndGlyphs">ADNP</text>
</svg>
</body></html>
